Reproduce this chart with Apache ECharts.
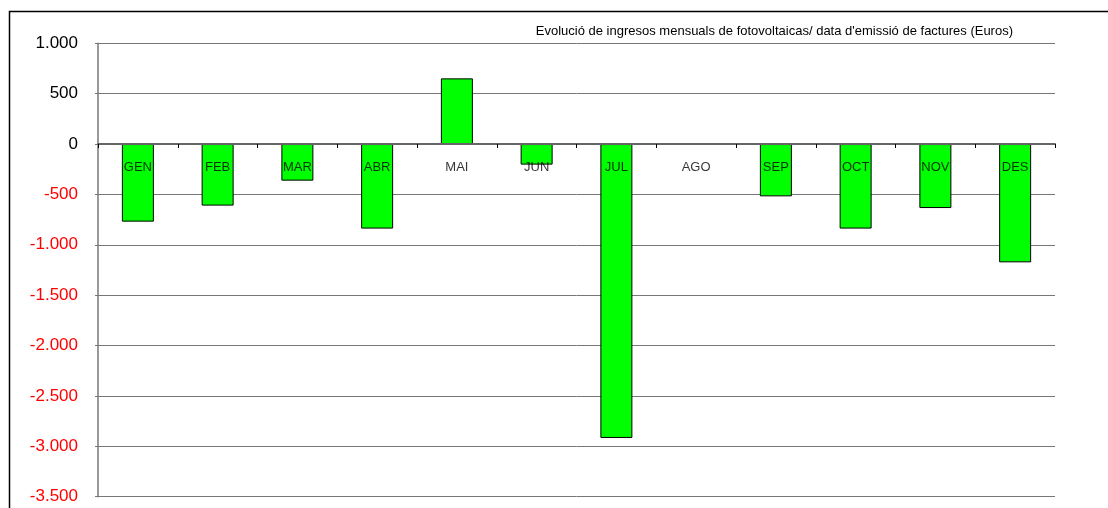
<!DOCTYPE html>
<html>
<head>
<meta charset="utf-8">
<script src="https://cdn.jsdelivr.net/npm/echarts@6/dist/echarts.min.js"></script>
<style>
html,body{margin:0;padding:0;background:#fff;}
#c{width:1108px;height:508px;}
</style>
</head>
<body>
<div id="c"></div>
<script>
const titleText = "Evolució de ingresos mensuals de fotovoltaicas/ data d'emissió de factures (Euros)";
const months = ["GEN","FEB","MAR","ABR","MAI","JUN","JUL","AGO","SEP","OCT","NOV","DES"];
const values = [-770, -611, -363, -839, 652, -204, -2917, 0, -519, -839, -635, -1174];
const yTicks = { min: -3500, max: 1000, step: 500 };

function fmt(v) {
  const s = Math.abs(v).toString().replace(/\B(?=(\d{3})+(?!\d))/g, '.');
  return (v < 0 ? '-' : '') + s;
}

const FF = 'Liberation Sans, Arial, sans-serif';
const chart = echarts.init(document.getElementById('c'), null, { renderer: 'canvas' });
chart.setOption({
  animation: false,
  backgroundColor: '#fff',
  textStyle: { fontFamily: FF },
  title: {
    text: titleText,
    right: 90,
    top: 20,
    textStyle: { fontSize: 13, fontWeight: 'normal', color: '#000', fontFamily: FF }
  },
  graphic: [
    {
      type: 'polyline',
      shape: { points: [[9.5, 520], [9.5, 11.5], [1120, 11.5]] },
      style: { stroke: '#000', lineWidth: 1.5, fill: null },
      silent: true
    }
  ],
  grid: { left: 98, right: 53, top: 43.3, bottom: 11.3, containLabel: false, outerBoundsMode: 'none' },
  xAxis: {
    type: 'category',
    data: months,
    z: 5,
    axisLine: { onZero: true, lineStyle: { color: '#666', width: 2 } },
    axisTick: { show: true, length: 4, lineStyle: { color: '#000', width: 1 } },
    axisLabel: { show: false }
  },
  yAxis: {
    type: 'value',
    min: yTicks.min,
    max: yTicks.max,
    interval: yTicks.step,
    axisLine: { show: true, lineStyle: { color: '#777', width: 1.5 } },
    axisTick: { show: true, length: 3, lineStyle: { color: '#777' } },
    splitLine: { show: true, lineStyle: { color: '#777', width: 1 } },
    axisLabel: {
      margin: 20,
      fontSize: 17,
      fontFamily: FF,
      formatter: function (v) { return (v < 0 ? '{r|' : '{b|') + fmt(v) + '}'; },
      rich: {
        r: { color: '#FF0000', fontSize: 17, fontFamily: FF },
        b: { color: '#000', fontSize: 17, fontFamily: FF }
      }
    }
  },
  series: [
    {
      type: 'bar',
      data: values,
      barWidth: 32,
      z: 2,
      itemStyle: { color: '#00FF00', borderColor: '#000', borderWidth: 1 }
    },
    {
      type: 'scatter',
      data: months.map(function (m) { return [m, 0]; }),
      symbolSize: 0,
      z: 10,
      silent: true,
      label: {
        show: true,
        position: 'bottom',
        distance: 17,
        formatter: function (p) { return p.data[0]; },
        fontSize: 13,
        color: '#000',
        fontFamily: FF
      }
    }
  ]
});
</script>
</body>
</html>
